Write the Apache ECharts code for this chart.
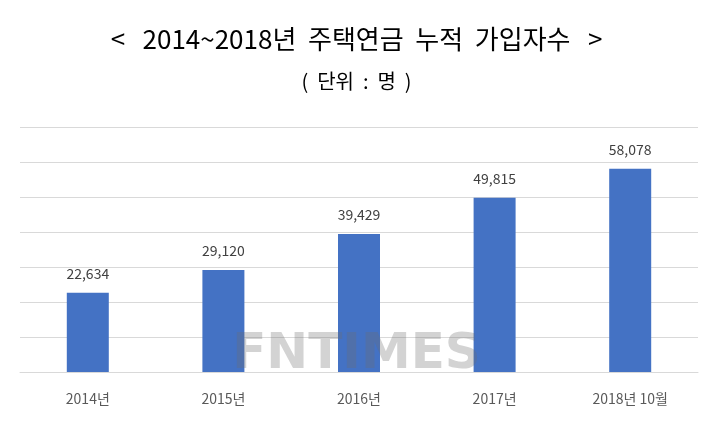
<!DOCTYPE html>
<html>
<head>
<meta charset="utf-8">
<script src="https://cdn.jsdelivr.net/npm/echarts@6/dist/echarts.min.js"></script>
<style>html,body{margin:0;padding:0;background:#fff}#chart{width:713px;height:424px}</style>
</head>
<body>
<div id="chart"></div>
<script>
var categories = ['2014년', '2015년', '2016년', '2017년', '2018년 10월'];
var values = [22634, 29120, 39429, 49815, 58078];

var chart = echarts.init(document.getElementById('chart'));
chart.setOption({
    animation: false,
    textStyle: {fontFamily: 'Noto Sans CJK KR'},
    title: [
        {text: '<   2014~2018년  주택연금  누적  가입자수   >', left: 'center', top: 21,
         textStyle: {fontSize: 26, fontWeight: 'normal', color: '#000', fontFamily: 'Noto Sans CJK KR'}},
        {text: '(  단위  :  명  )', left: 'center', top: 66,
         textStyle: {fontSize: 20, fontWeight: 'normal', color: '#000', fontFamily: 'Noto Sans CJK KR'}}
    ],
    grid: {left: 20, right: 15, top: 127, bottom: 52},
    xAxis: {
        type: 'category', data: categories,
        axisLine: {lineStyle: {color: '#d9d9d9'}},
        axisTick: {show: false},
        axisLabel: {color: '#595959', fontSize: 14, margin: 20}
    },
    yAxis: {
        type: 'value', min: 0, max: 70000, interval: 10000,
        axisLabel: {show: false},
        splitLine: {lineStyle: {color: '#d9d9d9'}}
    },
    series: [{
        type: 'bar', data: values, barWidth: 42,
        itemStyle: {color: '#4472c4'},
        label: {show: true, position: 'top', distance: 12, color: '#404040', fontSize: 14,
                formatter: function (p) { return p.value.toLocaleString('en-US'); }}
    }],
    graphic: [{
        type: 'text', left: 'center', top: 330, silent: true, z: 100,
        style: {text: 'FNTIMES', fontSize: 50, fontWeight: 'bold', fill: 'rgba(110,110,110,0.3)', fontFamily: 'DejaVu Sans'}
    }]
});
</script>
</body>
</html>
